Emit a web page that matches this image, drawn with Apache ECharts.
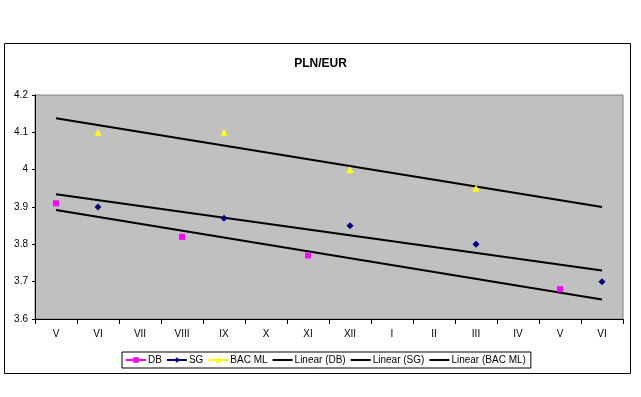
<!DOCTYPE html>
<html>
<head>
<meta charset="utf-8">
<script src="https://cdn.jsdelivr.net/npm/echarts@6/dist/echarts.min.js"></script>
<style>
  html, body { margin: 0; padding: 0; background: #fff; }
  #chart { width: 641px; height: 397px; }
</style>
</head>
<body>
<div id="chart"></div>
<script>
// months, May to June of the following year
var categories = ['V', 'VI', 'VII', 'VIII', 'IX', 'X', 'XI', 'XII', 'I', 'II', 'III', 'IV', 'V', 'VI'];

var dbValues  = [3.91, null, null, 3.82, null, null, 3.77, null, null, null, null, null, 3.68, null];
var sgValues  = [null, 3.90, null, null, 3.87, null, null, 3.85, null, null, 3.80, null, null, 3.70];
var bacValues = [null, 4.10, null, null, 4.10, null, null, 4.00, null, null, 3.95, null, null, null];

// trend line ends (first and last month)
var trendDB  = [3.892, 3.652];
var trendSG  = [3.934, 3.730];
var trendBAC = [4.138, 3.900];

var yTicks = { min: 3.6, max: 4.2, step: 0.1 };

var chart = echarts.init(document.getElementById('chart'));

function trendLine(name, ends) {
    var last = categories.length - 1;
    return {
        name: name,
        type: 'line',
        data: [[0, ends[0]], [last, ends[1]]],
        symbol: 'none',
        lineStyle: { color: '#000', width: 2 },
        itemStyle: { color: '#000' },
        z: 3,
        silent: true
    };
}

function pointSeries(name, values, symbol, size, color) {
    // points sit between nulls so no line segment is drawn, legend still shows a line
    return {
        name: name,
        type: 'line',
        data: values,
        symbol: symbol,
        symbolSize: size,
        connectNulls: false,
        lineStyle: { color: color, width: 1 },
        itemStyle: { color: color },
        z: 4
    };
}

function trendLegend(name) {
    return { name: name, itemStyle: { opacity: 0 }, lineStyle: { width: 2, color: '#000', opacity: 1 } };
}

var option = {
    animation: false,
    backgroundColor: '#fff',
    textStyle: { fontFamily: 'Liberation Sans, Arial, sans-serif' },
    title: {
        text: 'PLN/EUR',
        left: 'center',
        top: 53,
        textStyle: { fontSize: 12, fontWeight: 'bold', color: '#000', fontFamily: 'Liberation Sans, Arial, sans-serif' }
    },
    graphic: [{
        type: 'rect',
        shape: { x: 4.5, y: 43.5, width: 626, height: 330 },
        style: { fill: null, stroke: '#000', lineWidth: 1 },
        z: 0
    }],
    grid: {
        left: 35, right: 18, top: 95, bottom: 78,
        show: true,
        backgroundColor: '#C0C0C0',
        borderColor: '#808080',
        borderWidth: 1
    },
    legend: {
        left: 122,
        top: 352,
        padding: [3, 5, 3, 3],
        itemGap: 4,
        itemWidth: 20,
        itemHeight: 7,
        borderColor: '#000',
        borderWidth: 1,
        textStyle: { fontSize: 10, color: '#000', padding: [0, 0, 0, -3] },
        data: ['DB', 'SG', 'BAC ML',
            trendLegend('Linear (DB)'), trendLegend('Linear (SG)'), trendLegend('Linear (BAC ML)')]
    },
    xAxis: {
        type: 'category',
        data: categories,
        boundaryGap: true,
        axisLine: { show: true, lineStyle: { color: '#000', width: 1 } },
        axisTick: { show: true, length: 5, lineStyle: { color: '#000' } },
        axisLabel: { color: '#000', fontSize: 10, margin: 10 },
        splitLine: { show: false }
    },
    yAxis: {
        type: 'value',
        min: yTicks.min,
        max: yTicks.max,
        interval: yTicks.step,
        axisLine: { show: true, lineStyle: { color: '#000', width: 1 } },
        axisTick: { show: true, length: 3, lineStyle: { color: '#000' } },
        axisLabel: { color: '#000', fontSize: 10, margin: 7 },
        splitLine: { show: false }
    },
    series: [
        pointSeries('DB', dbValues, 'rect', 6, '#FF00FF'),
        pointSeries('SG', sgValues, 'diamond', 7, '#000080'),
        pointSeries('BAC ML', bacValues, 'triangle', 7, '#FFFF00'),
        trendLine('Linear (DB)', trendDB),
        trendLine('Linear (SG)', trendSG),
        trendLine('Linear (BAC ML)', trendBAC)
    ]
};

chart.setOption(option);
</script>
</body>
</html>
